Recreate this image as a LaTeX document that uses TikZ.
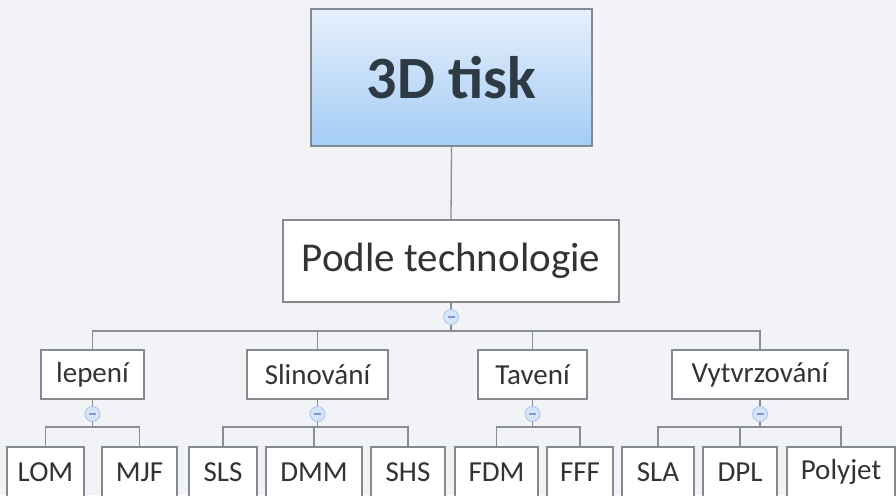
\documentclass[tikz,border=0pt]{standalone}
\usepackage{fontspec}
\setmainfont{Carlito}
\definecolor{bgc}{HTML}{F2F3F7}
\definecolor{boxline}{HTML}{858A90}
\definecolor{lineclr}{HTML}{8A8E94}
\definecolor{txt}{HTML}{333333}
\definecolor{roottxt}{HTML}{2E3A44}
\definecolor{rtop}{HTML}{E6EFFB}
\definecolor{rbot}{HTML}{A4CDF6}
\definecolor{foldfill}{HTML}{D6E4F8}
\definecolor{foldline}{HTML}{A8C2EA}
\definecolor{foldminus}{HTML}{7D9BCF}
\begin{document}
\begin{tikzpicture}[x=1pt,y=-1pt,
  box/.style={draw=boxline, line width=1.2pt, fill=white, text=txt, inner sep=0pt,
    font=\fontsize{29}{29}\selectfont},
  rootbox/.style={draw=boxline, line width=1.3pt, top color=rtop, bottom color=rbot,
    text=roottxt, inner sep=0pt, font=\fontsize{60}{60}\selectfont\bfseries},
  midbox/.style={box, font=\fontsize{41}{41}\selectfont},
  conn/.style={draw=lineclr, line width=1.3pt},
  fold/.style={circle, draw=foldline, line width=0.8pt, fill=foldfill, minimum size=15pt, inner sep=0pt}]
\fill[bgc] (0,0) rectangle (896,495);
\useasboundingbox (0,0) rectangle (896,495);
\clip (0,0) rectangle (896,495);
% nodes
\node[rootbox, minimum width=281pt, minimum height=137pt] (root) at (451.5,77.5) {3D tisk};
\node[midbox, minimum width=336pt, minimum height=82pt] (podle) at (451,261) {Podle technologie};
\node[box, minimum width=103pt, minimum height=49pt] (lep) at (92.5,374.5) {lepení};
\node[box, minimum width=141pt, minimum height=49pt] (sli) at (317.5,374.5) {Slinování};
\node[box, minimum width=109pt, minimum height=49pt] (tav) at (532.5,374.5) {Tavení};
\node[box, minimum width=176pt, minimum height=49pt] (vyt) at (760,374.5) {Vytvrzování};
\tikzset{leaf/.style={box, minimum height=50pt}}
\node[leaf, minimum width=77pt] (lom) at (45.5,472) {LOM};
\node[leaf, minimum width=75pt] (mjf) at (139.5,472) {MJF};
\node[leaf, minimum width=68pt] (sls) at (223,472) {SLS};
\node[leaf, minimum width=96pt] (dmm) at (314,472) {DMM};
\node[leaf, minimum width=74pt] (shs) at (408,472) {SHS};
\node[leaf, minimum width=83pt] (fdm) at (496.5,472) {FDM};
\node[leaf, minimum width=66pt] (fff) at (580,472) {FFF};
\node[leaf, minimum width=72pt] (sla) at (658,472) {SLA};
\node[leaf, minimum width=74pt] (dpl) at (740,472) {DPL};
\node[leaf, minimum width=108pt] (poly) at (841,472) {Polyjet};
% bus coordinates
\coordinate (b0) at (451,331);
\coordinate (b1) at (0,427);
% connectors
\draw[conn] (root.south) -- (podle.north);
\draw[conn] (podle.south) -- (b0);
\draw[conn] (lep.north) -- (lep.north |- b0) -- (vyt.north |- b0) -- (vyt.north);
\draw[conn] (sli.north) -- (sli.north |- b0);
\draw[conn] (tav.north) -- (tav.north |- b0);
% level 2 -> 3
\draw[conn] (lep.south) -- (lep.south |- b1);
\draw[conn] (lom.north) -- (lom.north |- b1) -- (mjf.north |- b1) -- (mjf.north);
\draw[conn] (sli.south) -- (sli.south |- b1);
\draw[conn] (sls.north) -- (sls.north |- b1) -- (shs.north |- b1) -- (shs.north);
\draw[conn] (dmm.north) -- (dmm.north |- b1);
\draw[conn] (tav.south) -- (tav.south |- b1);
\draw[conn] (fdm.north) -- (fdm.north |- b1) -- (fff.north |- b1) -- (fff.north);
\draw[conn] (vyt.south) -- (vyt.south |- b1);
\draw[conn] (sla.north) -- (sla.north |- b1) -- (poly.north |- b1) -- (poly.north);
\draw[conn] (dpl.north) -- (dpl.north |- b1);
% fold indicators
\newcommand{\foldminus}{{\color{foldminus}\rule[-0.6pt]{7pt}{1.2pt}}}
\node[fold] (f0) at (451,317) {\foldminus};
\node[fold] (f1) at (92.5,414) {\foldminus};
\node[fold] (f2) at (317.5,414) {\foldminus};
\node[fold] (f3) at (532.5,414) {\foldminus};
\node[fold] (f4) at (760,414) {\foldminus};
\end{tikzpicture}
\end{document}
